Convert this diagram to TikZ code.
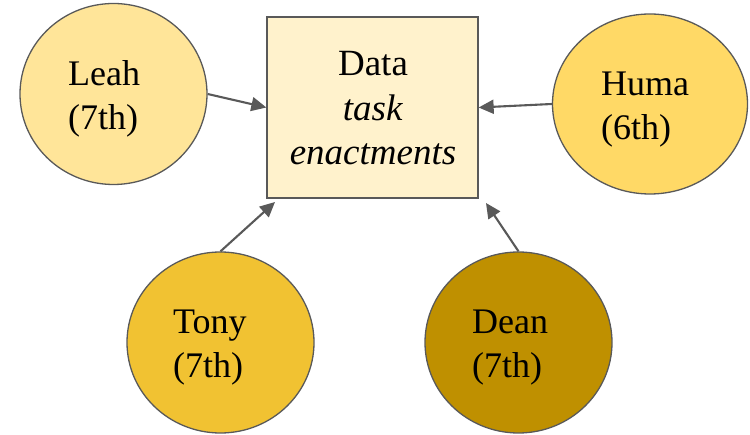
\documentclass[tikz,border=0pt]{standalone}
\usepackage{fontspec}
\setmainfont{Liberation Serif}
\usetikzlibrary{arrows.meta,shapes.geometric}
\definecolor{edge}{HTML}{595959}
\definecolor{leahfill}{HTML}{FFE599}
\definecolor{humafill}{HTML}{FFD966}
\definecolor{tonyfill}{HTML}{F1C232}
\definecolor{deanfill}{HTML}{BF9000}
\definecolor{boxfill}{HTML}{FFF2CC}
\begin{document}
\begin{tikzpicture}[x=1pt,y=-1pt,
  person/.style={ellipse, draw=edge, line width=1.3pt, inner sep=0pt,
                 minimum width=187pt, minimum height=181pt},
  % anchored at the baseline of the last line
  who/.style={align=left, anchor=base west, inner sep=0pt,
              font=\fontsize{36}{44}\selectfont},
  databox/.style={rectangle, draw=edge, line width=1.3pt, fill=boxfill,
                  inner sep=0pt, minimum width=211pt, minimum height=181pt},
  link/.style={draw=edge, line width=2.1pt, -{Triangle[length=15pt,width=14pt]}},
]
\useasboundingbox (0,0) rectangle (750,435);

% central data box
\node[databox] (data) at (372.5,107.5) {};
\node[align=center, anchor=base, inner sep=0pt,
      font=\fontsize{37}{44.5}\selectfont] (datatext) at (373,165)
      {Data\\\textit{task}\\\textit{enactments}};

% participants
\node[person, fill=leahfill] (leah) at (113.5,94) {};
\node[who] (leahname) at (68,130) {Leah\\(7th)};

\node[person, fill=humafill, minimum width=195pt, minimum height=180pt] (huma) at (650,104) {};
\node[who] (humaname) at (601,140) {Huma\\(6th)};

\node[person, fill=tonyfill] (tony) at (220.5,342.5) {};
\node[who] (tonyname) at (173,378) {Tony\\(7th)};

\node[person, fill=deanfill] (dean) at (518.5,342.5) {};
\node[who] (deanname) at (472,378) {Dean\\(7th)};

% connectors
\coordinate (tonytip) at (275,202);
\coordinate (deantip) at (486,203);
\draw[link] (leah.east) -- (data.west);
\draw[link] (huma.west) -- (data.east);
\draw[link] (tony.north) -- (tonytip);
\draw[link] (dean.north) -- (deantip);
\end{tikzpicture}
\end{document}
